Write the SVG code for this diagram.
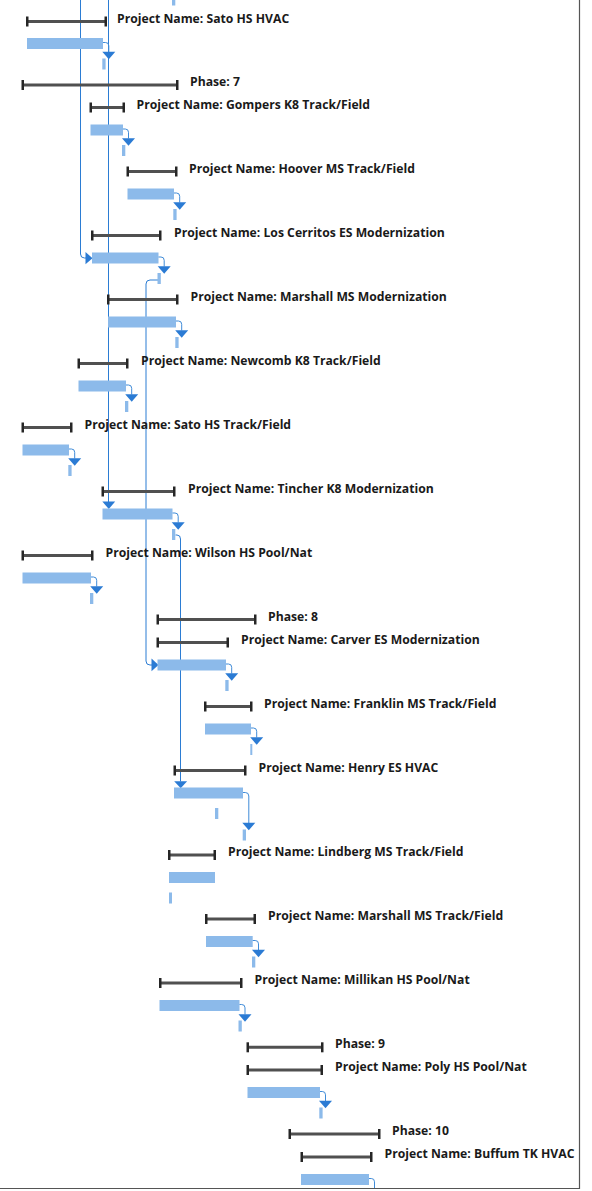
<svg xmlns="http://www.w3.org/2000/svg" width="592" height="1191" viewBox="0 0 592 1191">
<style>
.bg{fill:#ffffff}
.sum{stroke:#505050;stroke-width:3;fill:none}
.cap{fill:#262626}
.bar{fill:#8cbaea}
.tick{fill:#8cbaea}
.lbl{font-family:"Open Sans","Noto Sans","DejaVu Sans",sans-serif;font-weight:bold;font-size:12.2px;fill:#1a1a1a}
.hook{stroke:#3f8bd8;stroke-width:1;fill:none}
.link{stroke:#2b7cd3;stroke-width:1;fill:none}
.arr{fill:#2b7bd4}
.frame{stroke:#555555;stroke-width:1.2;fill:none}
</style>
<rect class="bg" x="0" y="0" width="592" height="1191"/>
<rect class="tick" x="172" y="0" width="3.3" height="5.5"/>

<g id="connectors">
  <path class="link" d="M80.5,0 V254 Q80.5,258 84.5,258 H86"/>
  <polygon class="arr" points="85.5,252 85.5,264.3 92.5,258.2"/>
  <path class="link" d="M108.5,0 V502"/>
  <polygon class="arr" points="102.3,501.5 115.2,501.5 108.8,509"/>
  <path class="link" d="M159,280 H150 Q146,280 146,284 V661 Q146,665 150,665 H152"/>
  <polygon class="arr" points="151.5,658.5 151.5,671.3 158.5,665"/>
  <path class="link" d="M175.5,535 H177 Q180.5,535 180.5,539 V781.5"/>
  <polygon class="arr" points="174.2,781.3 187.1,781.3 180.7,788.3"/>
</g>

<g id="sato-hs-hvac">
  <line class="sum" x1="27" y1="21.5" x2="106" y2="21.5"/>
  <rect class="cap" x="26" y="16.5" width="2.5" height="10"/>
  <rect class="cap" x="104.5" y="16.5" width="2.5" height="10"/>
  <text class="lbl" x="117" y="22.5">Project Name: Sato HS HVAC</text>
  <rect class="bar" x="27" y="38" width="76" height="11"/>
  <rect class="tick" x="102.3" y="58.5" width="3.3" height="11"/>
  <path class="hook" d="M103,42.5 H105.5 Q108.8,42.5 108.8,45.8 V52"/>
  <polygon class="arr" points="102.3,51.7 115.3,51.7 108.8,59.3"/>
</g>

<g id="phase-7">
  <line class="sum" x1="22.5" y1="85" x2="177.5" y2="85"/>
  <rect class="cap" x="21.5" y="80" width="2.5" height="10"/>
  <rect class="cap" x="176" y="80" width="2.5" height="10"/>
  <text class="lbl" x="190" y="86">Phase: 7</text>
</g>

<g id="gompers-k8">
  <line class="sum" x1="90.5" y1="107.5" x2="124" y2="107.5"/>
  <rect class="cap" x="89.5" y="102.5" width="2.5" height="10"/>
  <rect class="cap" x="122.5" y="102.5" width="2.5" height="10"/>
  <text class="lbl" x="136.5" y="108.5">Project Name: Gompers K8 Track/Field</text>
  <rect class="bar" x="90.5" y="124.5" width="32.5" height="11"/>
  <rect class="tick" x="122" y="145" width="3.3" height="11"/>
  <path class="hook" d="M123,129 H125.3 Q128.5,129 128.5,132.3 V138.5"/>
  <polygon class="arr" points="122,138.2 135,138.2 128.5,145.8"/>
</g>

<g id="hoover-ms">
  <line class="sum" x1="127.5" y1="171.5" x2="176.5" y2="171.5"/>
  <rect class="cap" x="126.5" y="166.5" width="2.5" height="10"/>
  <rect class="cap" x="175" y="166.5" width="2.5" height="10"/>
  <text class="lbl" x="189" y="172.5">Project Name: Hoover MS Track/Field</text>
  <rect class="bar" x="127.5" y="188.5" width="46.5" height="11"/>
  <rect class="tick" x="173.3" y="209" width="3.3" height="11"/>
  <path class="hook" d="M174,193 H176.5 Q179.7,193 179.7,196.3 V202.5"/>
  <polygon class="arr" points="173.2,202.2 186.2,202.2 179.7,209.8"/>
</g>

<g id="los-cerritos-es">
  <line class="sum" x1="92" y1="235.5" x2="160.5" y2="235.5"/>
  <rect class="cap" x="91" y="230.5" width="2.5" height="10"/>
  <rect class="cap" x="159" y="230.5" width="2.5" height="10"/>
  <text class="lbl" x="174" y="236.5">Project Name: Los Cerritos ES Modernization</text>
  <rect class="bar" x="92" y="252.5" width="66.5" height="11"/>
  <rect class="tick" x="157.5" y="273" width="3.3" height="11"/>
  <path class="hook" d="M158.5,257 H161 Q164.2,257 164.2,260.3 V266.5"/>
  <polygon class="arr" points="157.7,266.2 170.7,266.2 164.2,273.8"/>
</g>

<g id="marshall-ms-mod">
  <line class="sum" x1="108" y1="299.5" x2="177.5" y2="299.5"/>
  <rect class="cap" x="107" y="294.5" width="2.5" height="10"/>
  <rect class="cap" x="176" y="294.5" width="2.5" height="10"/>
  <text class="lbl" x="190.5" y="300.5">Project Name: Marshall MS Modernization</text>
  <rect class="bar" x="108" y="316.5" width="68" height="11"/>
  <rect class="tick" x="175.3" y="337" width="3.3" height="11"/>
  <path class="hook" d="M176,321 H178.5 Q181.7,321 181.7,324.3 V330.5"/>
  <polygon class="arr" points="175.2,330.2 188.2,330.2 181.7,337.8"/>
</g>

<g id="newcomb-k8">
  <line class="sum" x1="78.5" y1="363.5" x2="127.5" y2="363.5"/>
  <rect class="cap" x="77.5" y="358.5" width="2.5" height="10"/>
  <rect class="cap" x="126" y="358.5" width="2.5" height="10"/>
  <text class="lbl" x="141" y="364.5">Project Name: Newcomb K8 Track/Field</text>
  <rect class="bar" x="78.5" y="380.5" width="47.5" height="11"/>
  <rect class="tick" x="125" y="401" width="3.3" height="11"/>
  <path class="hook" d="M126,385 H128.5 Q131.7,385 131.7,388.3 V394.5"/>
  <polygon class="arr" points="125.2,394.2 138.2,394.2 131.7,401.8"/>
</g>

<g id="sato-hs-track">
  <line class="sum" x1="22.5" y1="427.5" x2="71.5" y2="427.5"/>
  <rect class="cap" x="21.5" y="422.5" width="2.5" height="10"/>
  <rect class="cap" x="70" y="422.5" width="2.5" height="10"/>
  <text class="lbl" x="84.5" y="428.5">Project Name: Sato HS Track/Field</text>
  <rect class="bar" x="22.5" y="444.5" width="46.5" height="11"/>
  <rect class="tick" x="68.3" y="465" width="3.3" height="11"/>
  <path class="hook" d="M69,449 H71.5 Q74.7,449 74.7,452.3 V458.5"/>
  <polygon class="arr" points="68.2,458.2 81.2,458.2 74.7,465.8"/>
</g>

<g id="tincher-k8">
  <line class="sum" x1="102.5" y1="491.5" x2="174.5" y2="491.5"/>
  <rect class="cap" x="101.5" y="486.5" width="2.5" height="10"/>
  <rect class="cap" x="173" y="486.5" width="2.5" height="10"/>
  <text class="lbl" x="188" y="492.5">Project Name: Tincher K8 Modernization</text>
  <rect class="bar" x="102.5" y="508.5" width="70" height="11"/>
  <rect class="tick" x="172" y="529" width="3.3" height="11"/>
  <path class="hook" d="M172.5,513 H175 Q178.2,513 178.2,516.3 V522.5"/>
  <polygon class="arr" points="171.7,522.2 184.7,522.2 178.2,529.8"/>
</g>

<g id="wilson-hs">
  <line class="sum" x1="22.5" y1="555.5" x2="92.5" y2="555.5"/>
  <rect class="cap" x="21.5" y="550.5" width="2.5" height="10"/>
  <rect class="cap" x="91" y="550.5" width="2.5" height="10"/>
  <text class="lbl" x="105.5" y="556.5">Project Name: Wilson HS Pool/Nat</text>
  <rect class="bar" x="22.5" y="572.5" width="68.5" height="11"/>
  <rect class="tick" x="90" y="593" width="3.3" height="11"/>
  <path class="hook" d="M91,577 H93.5 Q96.7,577 96.7,580.3 V586.5"/>
  <polygon class="arr" points="90.2,586.2 103.2,586.2 96.7,593.8"/>
</g>

<g id="phase-8">
  <line class="sum" x1="157.5" y1="619.5" x2="255.5" y2="619.5"/>
  <rect class="cap" x="156.5" y="614.5" width="2.5" height="10"/>
  <rect class="cap" x="254" y="614.5" width="2.5" height="10"/>
  <text class="lbl" x="268" y="620.5">Phase: 8</text>
</g>

<g id="carver-es">
  <line class="sum" x1="157.5" y1="642.5" x2="228" y2="642.5"/>
  <rect class="cap" x="156.5" y="637.5" width="2.5" height="10"/>
  <rect class="cap" x="226.5" y="637.5" width="2.5" height="10"/>
  <text class="lbl" x="241" y="643.5">Project Name: Carver ES Modernization</text>
  <rect class="bar" x="157.5" y="659.5" width="68.5" height="11"/>
  <rect class="tick" x="225.3" y="680" width="3.3" height="11"/>
  <path class="hook" d="M226,664 H228.5 Q231.7,664 231.7,667.3 V673.5"/>
  <polygon class="arr" points="225.2,673.2 238.2,673.2 231.7,680.8"/>
</g>

<g id="franklin-ms">
  <line class="sum" x1="205" y1="706.5" x2="251.5" y2="706.5"/>
  <rect class="cap" x="204" y="701.5" width="2.5" height="10"/>
  <rect class="cap" x="250" y="701.5" width="2.5" height="10"/>
  <text class="lbl" x="264" y="707.5">Project Name: Franklin MS Track/Field</text>
  <rect class="bar" x="205" y="723.5" width="46" height="11"/>
  <rect class="tick" x="250.3" y="744" width="2" height="11"/>
  <path class="hook" d="M251,728 H253.5 Q256.7,728 256.7,731.3 V737.5"/>
  <polygon class="arr" points="250.2,737.2 263.2,737.2 256.7,744.8"/>
</g>

<g id="henry-es">
  <line class="sum" x1="174.5" y1="770.5" x2="245.5" y2="770.5"/>
  <rect class="cap" x="173.5" y="765.5" width="2.5" height="10"/>
  <rect class="cap" x="244" y="765.5" width="2.5" height="10"/>
  <text class="lbl" x="258.5" y="771.5">Project Name: Henry ES HVAC</text>
  <rect class="bar" x="174" y="787.5" width="69" height="11"/>
  <rect class="tick" x="215" y="808" width="3.3" height="11"/>
  <rect class="tick" x="242.7" y="829.5" width="3.3" height="11"/>
  <path class="hook" d="M243,792.5 H245.3 Q248.8,792.5 248.8,796 V823"/>
  <polygon class="arr" points="242.3,822.7 255.3,822.7 248.8,830.3"/>
</g>

<g id="lindberg-ms">
  <line class="sum" x1="169" y1="855" x2="215" y2="855"/>
  <rect class="cap" x="168" y="850" width="2.5" height="10"/>
  <rect class="cap" x="213.5" y="850" width="2.5" height="10"/>
  <text class="lbl" x="228" y="856">Project Name: Lindberg MS Track/Field</text>
  <rect class="bar" x="169" y="872" width="46" height="11"/>
  <rect class="tick" x="169" y="892.5" width="3" height="11"/>
</g>

<g id="marshall-ms-track">
  <line class="sum" x1="206" y1="919" x2="255" y2="919"/>
  <rect class="cap" x="205" y="914" width="2.5" height="10"/>
  <rect class="cap" x="253.5" y="914" width="2.5" height="10"/>
  <text class="lbl" x="268" y="920">Project Name: Marshall MS Track/Field</text>
  <rect class="bar" x="206" y="936" width="46.7" height="11"/>
  <rect class="tick" x="252" y="956.5" width="3.3" height="11"/>
  <path class="hook" d="M252.7,940.5 H255.2 Q258.5,940.5 258.5,943.8 V950"/>
  <polygon class="arr" points="252,949.7 265,949.7 258.5,957.3"/>
</g>

<g id="millikan-hs">
  <line class="sum" x1="160" y1="983" x2="241.5" y2="983"/>
  <rect class="cap" x="159" y="978" width="2.5" height="10"/>
  <rect class="cap" x="240" y="978" width="2.5" height="10"/>
  <text class="lbl" x="254.5" y="984">Project Name: Millikan HS Pool/Nat</text>
  <rect class="bar" x="159.5" y="1000" width="80" height="11"/>
  <rect class="tick" x="238.5" y="1020.5" width="3.3" height="11"/>
  <path class="hook" d="M239.5,1004.5 H241.7 Q245,1004.5 245,1007.8 V1014.5"/>
  <polygon class="arr" points="238.5,1014.2 251.5,1014.2 245,1021.8"/>
</g>

<g id="phase-9">
  <line class="sum" x1="247.5" y1="1047.3" x2="322.5" y2="1047.3"/>
  <rect class="cap" x="246.5" y="1042.3" width="2.5" height="10"/>
  <rect class="cap" x="321" y="1042.3" width="2.5" height="10"/>
  <text class="lbl" x="335" y="1048.3">Phase: 9</text>
</g>

<g id="poly-hs">
  <line class="sum" x1="247.5" y1="1070" x2="322" y2="1070"/>
  <rect class="cap" x="246.5" y="1065" width="2.5" height="10"/>
  <rect class="cap" x="320.5" y="1065" width="2.5" height="10"/>
  <text class="lbl" x="335" y="1071">Project Name: Poly HS Pool/Nat</text>
  <rect class="bar" x="247.5" y="1087" width="72.5" height="11"/>
  <rect class="tick" x="319.3" y="1107.5" width="3.3" height="11"/>
  <path class="hook" d="M320,1091.5 H322.3 Q325.5,1091.5 325.5,1094.8 V1101"/>
  <polygon class="arr" points="319,1100.7 332,1100.7 325.5,1108.3"/>
</g>

<g id="phase-10">
  <line class="sum" x1="289.5" y1="1134" x2="379.5" y2="1134"/>
  <rect class="cap" x="288.5" y="1129" width="2.5" height="10"/>
  <rect class="cap" x="378" y="1129" width="2.5" height="10"/>
  <text class="lbl" x="392" y="1135">Phase: 10</text>
</g>

<g id="buffum-tk">
  <line class="sum" x1="301.5" y1="1157" x2="371.5" y2="1157"/>
  <rect class="cap" x="300.5" y="1152" width="2.5" height="10"/>
  <rect class="cap" x="370" y="1152" width="2.5" height="10"/>
  <text class="lbl" x="384.5" y="1158">Project Name: Buffum TK HVAC</text>
  <rect class="bar" x="301" y="1174" width="68" height="11"/>
  <path class="hook" d="M369,1178.5 H371.3 Q374.5,1178.5 374.5,1181.8 V1188"/>
</g>

<g id="frame">
  <path class="frame" d="M579.5,0 V1188.5 H0"/>
</g>
</svg>
